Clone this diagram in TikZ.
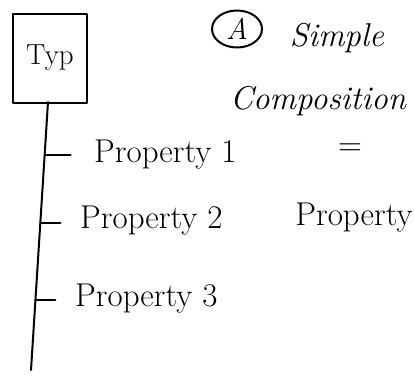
\documentclass[tikz,border=0pt]{standalone}
\usepackage{fontspec}
\usetikzlibrary{calc,shapes.geometric}
\begin{document}
\begin{tikzpicture}[x=1pt,y=-1pt,
  ink/.style={line width=2pt,line cap=round,line join=round},
  hand/.style={font=\fontsize{33}{35}\selectfont,inner sep=0pt},
  handit/.style={font=\fontsize{33}{35}\selectfont\itshape,inner sep=0pt}]
\useasboundingbox[fill=white] (0,0) rectangle (414,375);
% Typ box
\node[ink,draw,minimum width=74pt,minimum height=89pt,inner sep=0pt,font=\fontsize{29}{31}\selectfont] (typ) at (50,58) {Typ};
% spine
\coordinate (top) at (48,102);
\coordinate (bot) at (31,370);
\draw[ink] (top) -- (bot);
% ticks
\coordinate (t1) at ($(top)!0.198!(bot)$);
\coordinate (t2) at ($(top)!0.45!(bot)$);
\coordinate (t3) at ($(top)!0.74!(bot)$);
\node[hand,anchor=west] (p1) at (94,155) {Property 1};
\node[hand,anchor=west] (p2) at (80,221) {Property 2};
\node[hand,anchor=west] (p3) at (75,299) {Property 3};
\draw[ink] (t1) -- ++(26,0) coordinate (e1);
\draw[ink] (t2) -- ++(20,0) coordinate (e2);
\draw[ink] (t3) -- ++(20,0) coordinate (e3);
% right side
\node[ink,draw,ellipse,minimum width=50pt,minimum height=37pt,inner sep=0pt,font=\fontsize{30}{32}\selectfont\itshape] (a) at (237,29) {A};
\node[handit] (simple) at (337,38) {Simple};
\node[handit] (comp) at (318,101) {Composition};
\node[hand] (eq) at (350,150) {=};
\node[hand] (prop) at (354,218) {Property};
\end{tikzpicture}
\end{document}
